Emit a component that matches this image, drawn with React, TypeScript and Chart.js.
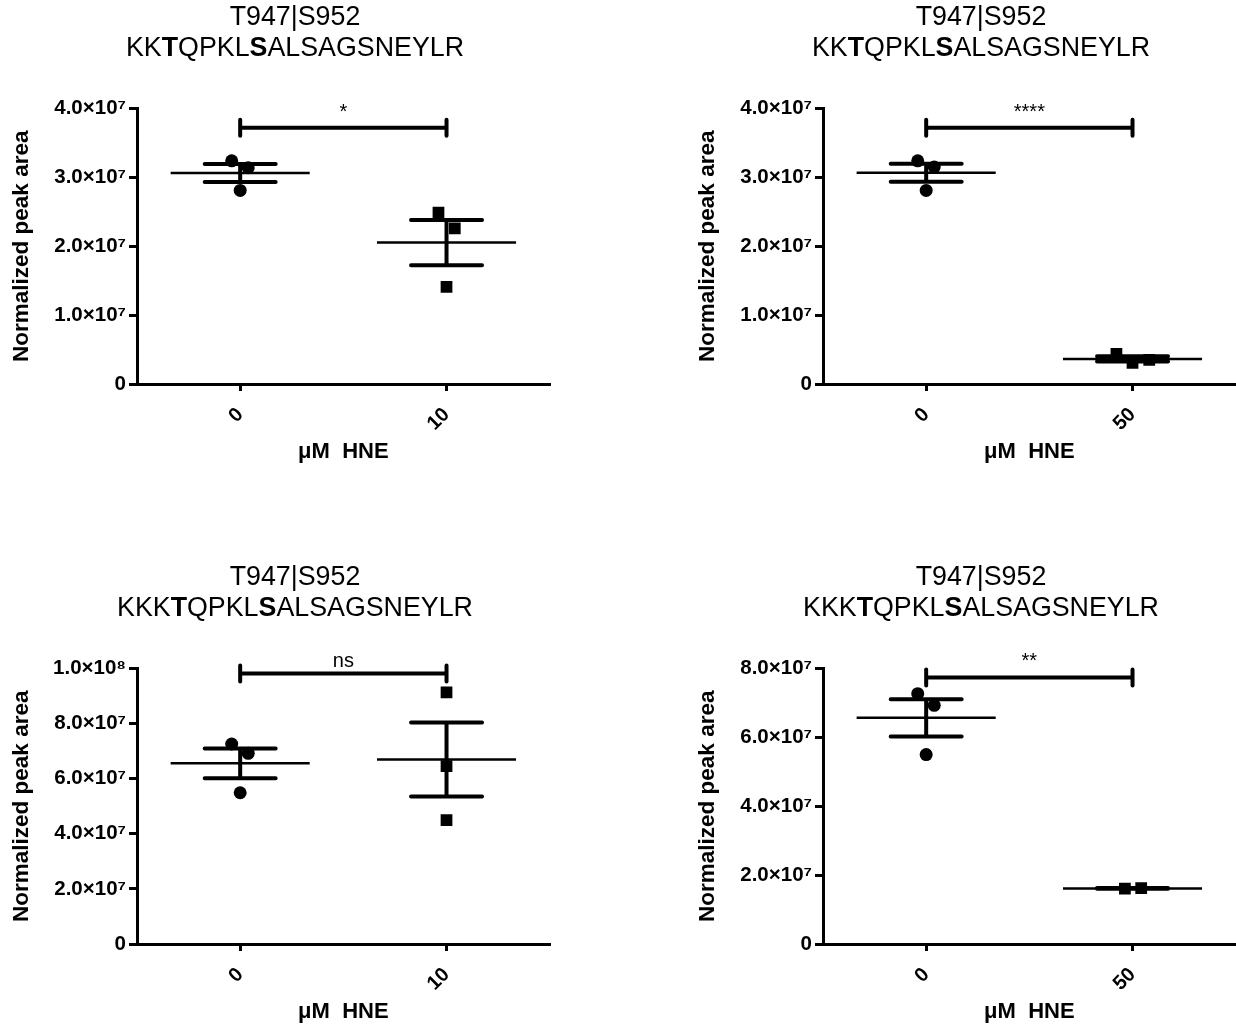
import React, { useEffect, useRef } from 'react';
import { Chart, registerables } from 'chart.js';

Chart.register(...registerables);

const FONT = '"Liberation Sans", Arial, Helvetica, sans-serif';

// ---------- data ----------
const titleLine1 = 'T947|S952';
const peptideShort = 'KKTQPKLSALSAGSNEYLR';
const peptideLong = 'KKKTQPKLSALSAGSNEYLR';
const boldShort = [2, 7];
const boldLong = [3, 8];

const doseLabels10 = ['0', '10'];
const doseLabels50 = ['0', '50'];
const xAxisTitle = 'μM  HNE';
const yAxisTitle = 'Normalized peak area';

const p1Control = [3.24e7, 3.14e7, 2.81e7];
const p1Treated = [2.49e7, 2.26e7, 1.41e7];
const p2Control = [3.24e7, 3.15e7, 2.81e7];
const p2Treated = [0.437e7, 0.349e7, 0.306e7];
const p3Control = [7.26e7, 6.92e7, 5.49e7];
const p3Treated = [9.13e7, 6.46e7, 4.5e7];
const p4Control = [7.27e7, 6.93e7, 5.5e7];
const p4Treated = [1.606e7, 1.623e7];

const circleJitter = [-0.041, 0.039, 0];
const p1SquareJitter = [-0.039, 0.04, 0];
const p2SquareJitter = [-0.078, 0.081, 0];
const p3SquareJitter = [0, 0, 0];
const p4SquareJitter = [-0.037, 0.042];

const yMaxes = [4e7, 4e7, 1e8, 8e7];
const yStepSizes = [1e7, 1e7, 2e7, 2e7];
const sigLabels = ['*', '****', 'ns', '**'];
const sigHeights = [3.72e7, 3.72e7, 9.82e7, 7.74e7];

// ---------- helpers ----------
const SUP: Record<string, string> = { '0': '⁰', '1': '¹', '2': '²', '3': '³', '4': '⁴', '5': '⁵', '6': '⁶', '7': '⁷', '8': '⁸', '9': '⁹', '-': '⁻' };
const sup = (n: number) => String(n).split('').map((c) => SUP[c] || c).join('');
const sciLabel = (v: number) => {
  if (v === 0) return '0';
  const e = Math.floor(Math.log10(v) + 1e-9);
  const m = v / Math.pow(10, e);
  return m.toFixed(1) + '×10' + sup(e);
};

type Panel = {
  left: number;
  top: number;
  peptide: string;
  bold: number[];
  labels: string[];
  control: number[];
  treated: number[];
  controlJitter: number[];
  treatedJitter: number[];
  yMax: number;
  step: number;
  sig: string;
  sigY: number;
};

const panels: Panel[] = [
  { left: 0, top: 0, peptide: peptideShort, bold: boldShort, labels: doseLabels10, control: p1Control, treated: p1Treated, controlJitter: circleJitter, treatedJitter: p1SquareJitter, yMax: yMaxes[0], step: yStepSizes[0], sig: sigLabels[0], sigY: sigHeights[0] },
  { left: 686, top: 0, peptide: peptideShort, bold: boldShort, labels: doseLabels50, control: p2Control, treated: p2Treated, controlJitter: circleJitter, treatedJitter: p2SquareJitter, yMax: yMaxes[1], step: yStepSizes[1], sig: sigLabels[1], sigY: sigHeights[1] },
  { left: 0, top: 560, peptide: peptideLong, bold: boldLong, labels: doseLabels10, control: p3Control, treated: p3Treated, controlJitter: circleJitter, treatedJitter: p3SquareJitter, yMax: yMaxes[2], step: yStepSizes[2], sig: sigLabels[2], sigY: sigHeights[2] },
  { left: 686, top: 560, peptide: peptideLong, bold: boldLong, labels: doseLabels50, control: p4Control, treated: p4Treated, controlJitter: circleJitter, treatedJitter: p4SquareJitter, yMax: yMaxes[3], step: yStepSizes[3], sig: sigLabels[3], sigY: sigHeights[3] },
];

const CW = 558;
const CH = 468;
const TITLE_SIZE = 26.8;

function meanSem(vals: number[]) {
  const n = vals.length;
  const mean = vals.reduce((a, b) => a + b, 0) / n;
  const sd = Math.sqrt(vals.reduce((a, b) => a + (b - mean) * (b - mean), 0) / (n - 1));
  return { mean, sem: sd / Math.sqrt(n) };
}

function makeDecoPlugin(p: Panel) {
  return {
    id: 'deco',
    beforeDatasetsDraw(chart: any) {
      const { ctx } = chart;
      const xs = chart.scales.x;
      const ys = chart.scales.y;
      [p.control, p.treated].forEach((vals, gi) => {
        const { mean, sem } = meanSem(vals);
        const cx = xs.getPixelForValue(gi);
        const mx0 = xs.getPixelForValue(gi - 0.337);
        const mx1 = xs.getPixelForValue(gi + 0.337);
        const sx0 = xs.getPixelForValue(gi - 0.172);
        const sx1 = xs.getPixelForValue(gi + 0.172);
        const ym = ys.getPixelForValue(mean);
        const yu = ys.getPixelForValue(mean + sem);
        const yl = ys.getPixelForValue(mean - sem);
        ctx.save();
        ctx.strokeStyle = '#000';
        ctx.lineCap = 'butt';
        ctx.lineWidth = 2.5;
        ctx.beginPath();
        ctx.moveTo(mx0, ym);
        ctx.lineTo(mx1, ym);
        ctx.stroke();
        ctx.lineWidth = 4;
        ctx.lineCap = 'round';
        ctx.beginPath();
        ctx.moveTo(cx, yu);
        ctx.lineTo(cx, yl);
        ctx.moveTo(sx0, yu);
        ctx.lineTo(sx1, yu);
        ctx.moveTo(sx0, yl);
        ctx.lineTo(sx1, yl);
        ctx.stroke();
        ctx.restore();
      });
    },
    afterDatasetsDraw(chart: any) {
      const { ctx } = chart;
      const xs = chart.scales.x;
      const ys = chart.scales.y;
      const x0 = xs.getPixelForValue(0);
      const x1 = xs.getPixelForValue(1);
      const y = ys.getPixelForValue(p.sigY);
      ctx.save();
      ctx.strokeStyle = '#000';
      ctx.lineWidth = 4;
      ctx.lineCap = 'round';
      ctx.beginPath();
      ctx.moveTo(x0, y);
      ctx.lineTo(x1, y);
      ctx.moveTo(x0, y - 8);
      ctx.lineTo(x0, y + 8);
      ctx.moveTo(x1, y - 8);
      ctx.lineTo(x1, y + 8);
      ctx.stroke();
      ctx.fillStyle = '#000';
      ctx.font = `20px ${FONT}`;
      ctx.textAlign = 'center';
      ctx.textBaseline = 'alphabetic';
      const isStars = p.sig.indexOf('*') >= 0;
      ctx.fillText(p.sig, (x0 + x1) / 2, y - (isStars ? 10 : 6));
      ctx.restore();
    },
    afterDraw(chart: any) {
      const { ctx } = chart;
      const cx = 295;
      ctx.save();
      ctx.fillStyle = '#000';
      ctx.textBaseline = 'alphabetic';
      ctx.textAlign = 'left';
      ctx.font = `${TITLE_SIZE}px ${FONT}`;
      const w1 = ctx.measureText(titleLine1).width;
      ctx.fillText(titleLine1, cx - w1 / 2, 25);
      const segs: { t: string; b: boolean }[] = [];
      p.peptide.split('').forEach((c, i) => {
        const b = p.bold.includes(i);
        const last = segs[segs.length - 1];
        if (last && last.b === b) last.t += c;
        else segs.push({ t: c, b });
      });
      const widths = segs.map((s) => {
        ctx.font = `${s.b ? 'bold ' : ''}${TITLE_SIZE}px ${FONT}`;
        return ctx.measureText(s.t).width;
      });
      const total = widths.reduce((a, b) => a + b, 0);
      let x = cx - total / 2;
      segs.forEach((s, i) => {
        ctx.font = `${s.b ? 'bold ' : ''}${TITLE_SIZE}px ${FONT}`;
        ctx.fillText(s.t, x, 56);
        x += widths[i];
      });
      ctx.restore();
    },
  };
}

function PanelChart({ p }: { p: Panel }) {
  const ref = useRef<HTMLCanvasElement | null>(null);
  useEffect(() => {
    if (!ref.current) return;
    const chart = new Chart(ref.current, {
      type: 'scatter',
      data: {
        datasets: [
          {
            data: p.control.map((v, i) => ({ x: 0 + p.controlJitter[i], y: v })),
            pointStyle: 'circle',
            pointRadius: 6.5,
            pointBackgroundColor: '#000',
            pointBorderWidth: 0,
          },
          {
            data: p.treated.map((v, i) => ({ x: 1 + p.treatedJitter[i], y: v })),
            pointStyle: 'rect',
            pointRadius: 8.3,
            pointBackgroundColor: '#000',
            pointBorderWidth: 0,
          },
        ],
      },
      options: {
        animation: false,
        responsive: false,
        devicePixelRatio: 1,
        events: [],
        layout: { padding: { top: 108.5, right: 0, bottom: 0, left: 0 } },
        plugins: { legend: { display: false }, tooltip: { enabled: false }, title: { display: false } },
        scales: {
          x: {
            type: 'linear',
            min: -0.5,
            max: 1.5,
            afterBuildTicks: (s: any) => {
              s.ticks = [{ value: 0 }, { value: 1 }];
            },
            afterFit: (s: any) => {
              s.height = 84;
            },
            ticks: {
              autoSkip: false,
              minRotation: 45,
              maxRotation: 45,
              padding: 12,
              color: '#000',
              font: { family: FONT, size: 20, weight: 'bold' },
              callback: (v: any) => p.labels[Math.round(Number(v))],
            },
            grid: { drawOnChartArea: false, drawTicks: true, tickLength: 7, lineWidth: 3, color: '#000' },
            border: { display: true, width: 3, color: '#000' },
            title: {
              display: true,
              text: xAxisTitle,
              color: '#000',
              font: { family: FONT, size: 22, weight: 'bold' },
              padding: { top: 0, bottom: 3 },
            },
          },
          y: {
            type: 'linear',
            min: 0,
            max: p.yMax,
            afterFit: (s: any) => {
              s.width = 137;
            },
            ticks: {
              stepSize: p.step,
              padding: 3,
              color: '#000',
              font: { family: FONT, size: 20.5, weight: 'bold' },
              callback: (v: any) => sciLabel(Number(v)),
            },
            grid: { drawOnChartArea: false, drawTicks: true, tickLength: 8, lineWidth: 3, color: '#000' },
            border: { display: true, width: 3, color: '#000' },
            title: {
              display: true,
              text: yAxisTitle,
              color: '#000',
              font: { family: FONT, size: 22.5, weight: 'bold' },
              padding: { top: 8, bottom: 0 },
            },
          },
        },
      } as any,
      plugins: [makeDecoPlugin(p)],
    });
    return () => chart.destroy();
  }, [p]);
  return (
    <canvas
      ref={ref}
      width={CW}
      height={CH}
      style={{ position: 'absolute', left: p.left, top: p.top, width: CW, height: CH }}
    />
  );
}

export default function App() {
  return (
    <div style={{ position: 'absolute', left: 0, top: 0, width: 1236, height: 1028, background: '#fff', overflow: 'hidden' }}>
      {panels.map((p, i) => (
        <PanelChart key={i} p={p} />
      ))}
    </div>
  );
}
